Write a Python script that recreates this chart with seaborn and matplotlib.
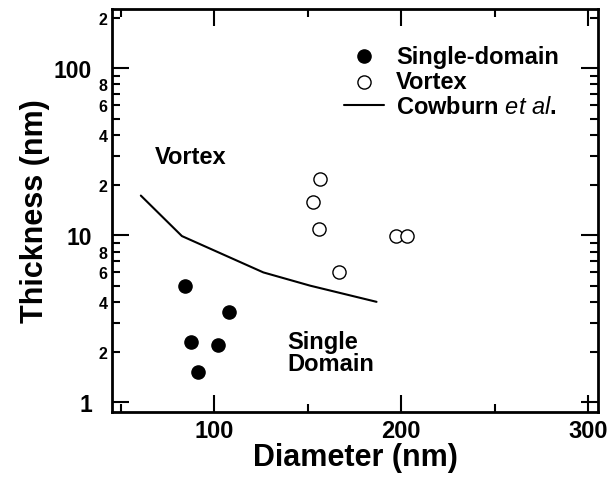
import numpy as np
import pandas as pd
import matplotlib
matplotlib.use('Agg')
import matplotlib.pyplot as plt
import matplotlib.ticker as mticker
import seaborn as sns

# data
sd_diameter = [84.3, 107.9, 87.4, 102.1, 91.4]
sd_thickness = [5.0, 3.5, 2.3, 2.2, 1.53]

vx_diameter = [156.5, 152.6, 156.1, 166.7, 197.0, 202.9]
vx_thickness = [21.8, 15.9, 10.9, 6.0, 9.9, 9.9]

cowburn_diameter = [60.6, 82.6, 126.2, 151.2, 186.8]
cowburn_thickness = [17.3, 9.9, 6.0, 5.0, 4.0]

sns.set_style('ticks')
plt.rcParams['font.family'] = ['Liberation Sans', 'DejaVu Sans']
plt.rcParams['font.weight'] = 'bold'
plt.rcParams['text.color'] = 'black'
plt.rcParams['axes.labelcolor'] = 'black'
plt.rcParams['xtick.color'] = 'black'
plt.rcParams['ytick.color'] = 'black'
plt.rcParams['mathtext.fontset'] = 'custom'
plt.rcParams['mathtext.it'] = 'Liberation Sans:italic:normal'
plt.rcParams['mathtext.rm'] = 'Liberation Sans'

fig = plt.figure(figsize=(6.12, 4.81), dpi=100)
ax = fig.add_axes([0.1825, 0.142, 0.795, 0.837])

sd = pd.DataFrame({'d': sd_diameter, 't': sd_thickness})
vx = pd.DataFrame({'d': vx_diameter, 't': vx_thickness})
cb = pd.DataFrame({'d': cowburn_diameter, 't': cowburn_thickness})

sns.scatterplot(data=sd, x='d', y='t', ax=ax, s=90, color='black',
                edgecolor='black', linewidth=1, label='Single-domain', zorder=3)
sns.scatterplot(data=vx, x='d', y='t', ax=ax, s=90, facecolor='white',
                edgecolor='black', linewidth=1, label='Vortex', zorder=3)
sns.lineplot(data=cb, x='d', y='t', ax=ax, color='black', linewidth=1.5,
             label=r'Cowburn $\mathit{et\ al.}$', sort=False)

ax.set_yscale('log')
ax.set_xlim(45, 305.5)
ax.set_ylim(0.88, 226)

# ticks
ax.xaxis.set_major_locator(mticker.FixedLocator([100, 200, 300]))
ax.xaxis.set_minor_locator(mticker.FixedLocator([50, 150, 250]))
ax.yaxis.set_major_locator(mticker.FixedLocator([1, 10, 100]))
minors = [m * 10 ** e for e in range(0, 3) for m in range(2, 10)]
ax.yaxis.set_minor_locator(mticker.FixedLocator(minors))
ax.yaxis.set_major_formatter(mticker.FuncFormatter(lambda v, p: '%d' % round(v)))


def minor_label(v, p):
    m = int(round(v / 10 ** np.floor(np.log10(v) + 1e-9)))
    return str(m) if m in (2, 4, 6, 8) else ''


ax.yaxis.set_minor_formatter(mticker.FuncFormatter(minor_label))
ax.xaxis.set_minor_formatter(mticker.NullFormatter())

ax.tick_params(which='both', direction='in', top=True, right=True, width=1.5)
ax.tick_params(which='major', length=12)
ax.tick_params(which='minor', length=6)
ax.tick_params(axis='x', which='major', labelsize=17, pad=5)
ax.tick_params(axis='y', which='major', labelsize=16.5, pad=14)
ax.tick_params(axis='y', which='minor', labelsize=11.5, pad=3)
for lab in ax.get_xticklabels() + ax.get_yticklabels(which='both'):
    lab.set_fontweight('bold')

for sp in ax.spines.values():
    sp.set_linewidth(2)
    sp.set_color('black')

ax.set_xlabel('Diameter (nm)', fontsize=22, fontweight='bold', labelpad=0)
ax.set_ylabel('Thickness (nm)', fontsize=22, fontweight='bold', labelpad=3)

ax.text(68.3, 29.7, 'Vortex', fontsize=17, fontweight='bold', va='center', ha='left')
ax.text(139.2, 2.0, 'Single\nDomain', fontsize=17, fontweight='bold', va='center',
        ha='left', linespacing=0.95)

leg = ax.legend(loc='upper left', bbox_to_anchor=(0.478, 0.912), frameon=False,
                fontsize=17, handlelength=1.7, handletextpad=0.5, labelspacing=0.1,
                borderaxespad=0, borderpad=0)
for t in leg.get_texts():
    t.set_fontweight('bold')

fig.savefig('out.png', dpi=100)
